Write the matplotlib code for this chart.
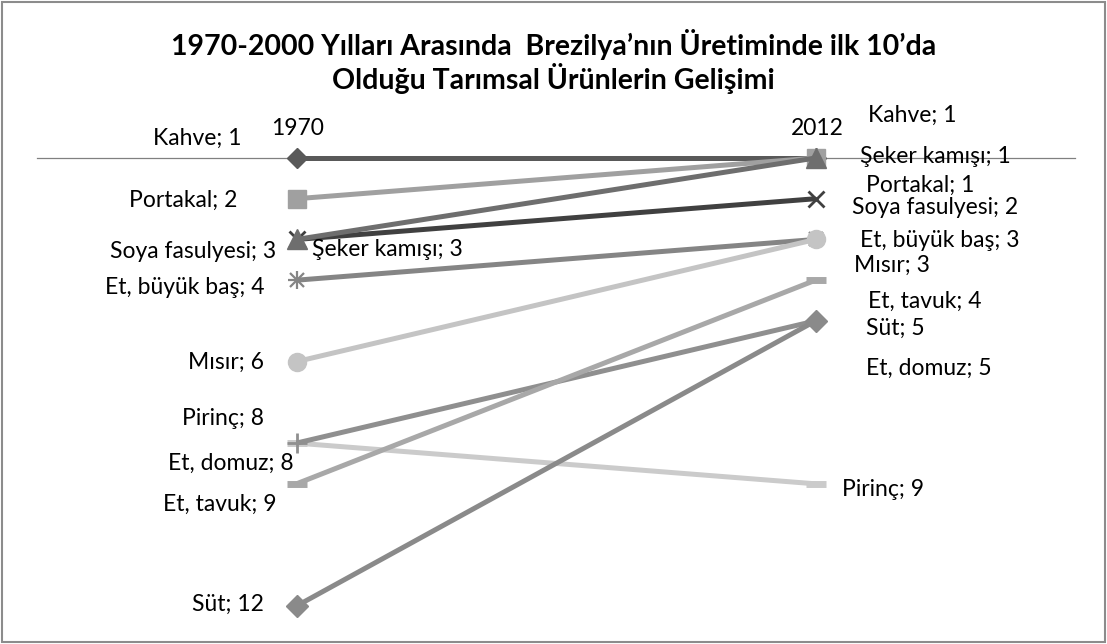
import matplotlib
matplotlib.use("Agg")
import matplotlib.pyplot as plt
from matplotlib.patches import Rectangle

plt.rcParams['font.family'] = ['Lato', 'DejaVu Sans']

years = ["1970", "2012"]
products = ["Kahve", "Portakal", "Soya fasulyesi", "Şeker kamışı", "Et, büyük baş",
            "Mısır", "Pirinç", "Et, domuz", "Et, tavuk", "Süt"]
rank_1970 = [1, 2, 3, 3, 4, 6, 8, 8, 9, 12]
rank_2012 = [1, 1, 2, 1, 3, 3, 9, 5, 4, 5]

# styles
colors = ["#595959", "#a0a0a0", "#404040", "#6e6e6e", "#858585",
          "#c4c4c4", "#cbcbcb", "#8f8f8f", "#a8a8a8", "#8a8a8a"]
markers = ["D", "s", "x", "^", "star", "o", "_", "+", "_", "D"]
msizes = [10, 13, 12, 15, 13, 13, 15, 15, 15, 11]
# label offsets in pixels (dx, dy: up positive) relative to the point
left_off = [(-55, 20), (-59, -2), (-20, -12), (15, -10), (-32, -7),
            (-32, -1), (-33, 25), (-3, -20), (-20, -21), (-33, 2)]
left_ha = ["right", "right", "right", "left", "right", "right", "right", "right", "right", "right"]
right_off = [(53, 43), (51, -27), (37, -9), (45, 2), (44, -1),
             (39, -26), (27, -6), (50, -47), (53, -21), (50, -7)]

fig = plt.figure(figsize=(11.07, 6.44), dpi=100)
W, H = 1107, 644
fig.patches.append(Rectangle((2 / W, 2 / H), 1 - 4 / W, 1 - 4 / H, transform=fig.transFigure,
                             fill=False, edgecolor="#8c8c8c", linewidth=1.5))
ax = fig.add_axes([37 / W, 1 - 606 / H, (1075 - 37) / W, (606 - 158) / H])
ax.set_xlim(-0.5, 1.5)
ax.set_ylim(12, 1)
ax.axis("off")
ax.plot([-0.5, 1.5], [1, 1], color="#808080", lw=0.9, zorder=1, clip_on=False)

order = [0, 1, 4, 5, 6, 7, 8, 9, 2, 3]
for i in order:
    y = [rank_1970[i], rank_2012[i]]
    z = 3 + order.index(i)
    m = markers[i]
    if m == "star":
        ax.plot([0, 1], y, color=colors[i], lw=3.6, clip_on=False, zorder=z,
                solid_capstyle="butt")
        for mm in ("+", "x"):
            ax.plot([0, 1], y, linestyle="none", marker=mm, markersize=msizes[i] if mm == "+" else msizes[i] * 0.8,
                    markeredgewidth=1.6, color=colors[i], clip_on=False, zorder=z)
        continue
    thin = m in ("x", "+", "_")
    ax.plot([0, 1], y, color=colors[i], lw=3.6, marker=m, markersize=msizes[i],
            markeredgewidth=(2.0 if m in ("x", "+") else (5 if m == "_" else 1)),
            markeredgecolor=colors[i], markerfacecolor=colors[i], clip_on=False,
            zorder=z, solid_capstyle="butt")

fs = 16.5
k = 0.72
for i in range(len(products)):
    ax.annotate(f"{products[i]}; {rank_1970[i]}", (0, rank_1970[i]),
                xytext=(left_off[i][0] * k, left_off[i][1] * k), textcoords="offset points",
                ha=left_ha[i], va="center", fontsize=fs, color="#000000", zorder=20)
    ax.annotate(f"{products[i]}; {rank_2012[i]}", (1, rank_2012[i]),
                xytext=(right_off[i][0] * k, right_off[i][1] * k), textcoords="offset points",
                ha="left", va="center", fontsize=fs, color="#000000", zorder=20)

for j, yr in enumerate(years):
    ax.annotate(yr, (j, 1), xytext=(1, 30 * k), textcoords="offset points",
                ha="center", va="center", fontsize=fs, color="#000000")

fig.text(0.5, 1 - 45 / H, "1970-2000 Yılları Arasında  Brezilya’nın Üretiminde ilk 10’da",
         ha="center", va="center", fontsize=20.5, fontweight="bold")
fig.text(0.5, 1 - 78 / H, "Olduğu Tarımsal Ürünlerin Gelişimi",
         ha="center", va="center", fontsize=20.5, fontweight="bold")

fig.savefig("out.png", dpi=100)
